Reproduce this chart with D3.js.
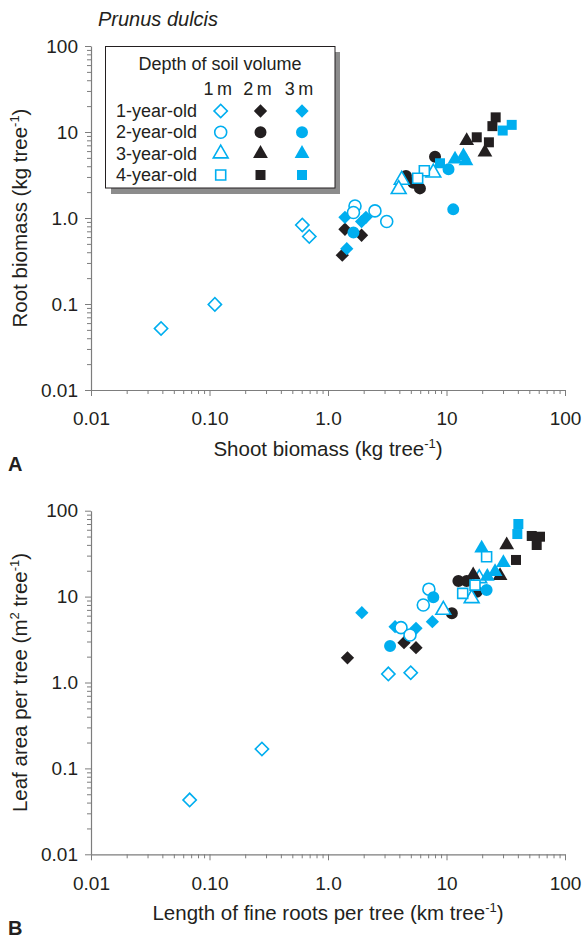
<!DOCTYPE html>
<html>
<head>
<meta charset="utf-8">
<script src="https://cdn.jsdelivr.net/npm/d3@7"></script>
<style>
  body { margin: 0; background: #fff; }
  text { font-family: Arial, "Liberation Sans", Helvetica, sans-serif; fill: #231f20; }
</style>
</head>
<body>
<svg width="582" height="938"></svg>
<script>
var ageLabels = ["1-year-old", "2-year-old", "3-year-old", "4-year-old"];
var depthLabels = ["1\u2009m", "2\u2009m", "3\u2009m"];
var majorTicks = [0.01, 0.1, 1, 10, 100];
var xTickLabels = ["0.01", "0.10", "1.0", "10", "100"];
var yTickLabels = ["0.01", "0.1", "1.0", "10", "100"];

// panel A: [shoot biomass, root biomass], one list per depth (1 m, 2 m, 3 m)
var shootRoot1yr = [
  [[0.039, 0.052], [0.111, 0.099], [0.607, 0.83], [0.695, 0.61]],
  [[1.39, 0.74], [1.92, 0.63], [1.32, 0.37]],
  [[1.39, 1.02], [2.09, 1.02], [1.92, 0.91], [1.44, 0.44]]
];
var shootRoot2yr = [
  [[1.69, 1.38], [1.64, 1.16], [2.49, 1.21], [3.13, 0.91]],
  [[4.55, 3.08], [5.25, 2.57], [5.97, 2.21], [8.0, 5.16]],
  [[1.64, 0.68], [10.4, 3.68], [11.4, 1.26]]
];
var shootRoot3yr = [
  [[7.74, 3.36], [4.19, 2.77], [3.95, 2.16]],
  [[14.8, 7.92], [21.1, 5.81]],
  [[11.8, 4.82], [13.9, 5.26], [14.6, 4.6]]
];
var shootRoot4yr = [
  [[6.5, 3.55], [5.71, 2.90]],
  [[26.0, 14.8], [24.4, 11.7], [18.0, 8.68], [22.8, 7.59]],
  [[35.5, 12.1], [29.8, 10.4], [8.81, 4.33]]
];

// panel B: [fine root length, leaf area]
var rootLeaf1yr = [
  [[0.068, 0.043], [0.277, 0.168], [3.23, 1.26], [4.99, 1.30]],
  [[1.46, 1.94], [4.38, 2.91], [5.53, 2.54]],
  [[1.93, 6.5], [3.68, 4.46], [5.53, 4.28], [7.6, 5.1]]
];
var rootLeaf2yr = [
  [[7.1, 12.2], [6.37, 7.98], [4.13, 4.35], [4.92, 3.57]],
  [[12.6, 15.2], [14.8, 15.2], [18.0, 11.4], [11.1, 6.39]],
  [[7.74, 9.81], [21.8, 11.9], [3.34, 2.66]]
];
var rootLeaf3yr = [
  [[18.9, 16.3], [16.3, 9.55], [9.4, 6.98]],
  [[32.2, 39.9], [16.8, 17.8], [28.3, 17.5]],
  [[19.8, 36.5], [30.2, 24.8], [25.7, 19.5], [22.1, 17.1]]
];
var rootLeaf4yr = [
  [[21.8, 29.1], [17.4, 13.6], [13.7, 10.9]],
  [[52.4, 50.8], [61.5, 49.8], [57.7, 39.9], [38.6, 26.7]],
  [[40.4, 70.0], [39.6, 53.5]]
];

var BLUE = "#00aeef", BLACK = "#231f20", AXIS = "#7d7d7d";

var svg = d3.select("svg");

var x = d3.scaleLog().domain([0.01, 100]).range([91, 565]);
var yA = d3.scaleLog().domain([0.01, 100]).range([390, 46]);
var yB = d3.scaleLog().domain([0.01, 100]).range([854.3, 510.7]);

function isMajor(d) {
  var l = Math.log10(d);
  return Math.abs(l - Math.round(l)) < 1e-6;
}
function labelFor(list) {
  return function(d) {
    if (!isMajor(d)) return "";
    return list[Math.round(Math.log10(d)) + 2];
  };
}

// one shape per age, one style per depth
function symbolPath(age) {
  if (age == 0) return d3.symbol().type(d3.symbolSquare).size(88)();
  if (age == 1) return d3.symbol().type(d3.symbolCircle).size(113)();
  if (age == 2) return d3.symbol().type(d3.symbolTriangle).size(95)();
  return d3.symbol().type(d3.symbolSquare).size(100)();
}
function styleMark(sel, age, depth) {
  sel.attr("d", symbolPath(age))
    .attr("fill", depth == 0 ? "#fff" : (depth == 1 ? BLACK : BLUE))
    .attr("stroke", depth == 0 ? BLUE : "none")
    .attr("stroke-width", 1.6);
}
function place(px, py, age) {
  return "translate(" + px + "," + py + ")" + (age == 0 ? " rotate(45)" : "");
}

function drawPanel(y, series, xTitle, yTitle, letter) {
  var g = svg.append("g");
  var bottom = y.range()[0];

  var ax = g.append("g")
      .attr("transform", "translate(0," + bottom + ")")
      .call(d3.axisBottom(x).tickValues(x.ticks()).tickSize(6).tickSizeOuter(0)
        .tickPadding(16).tickFormat(labelFor(xTickLabels)));
  var ay = g.append("g")
      .attr("transform", "translate(" + x.range()[0] + ",0)")
      .call(d3.axisLeft(y).tickValues(y.ticks()).tickSize(6).tickSizeOuter(0)
        .tickPadding(7).tickFormat(labelFor(yTickLabels)));

  [ax, ay].forEach(function(a) {
    a.select(".domain").attr("stroke", AXIS).attr("stroke-width", 1.2);
    a.selectAll(".tick line").attr("stroke", AXIS).attr("stroke-width", 1);
    a.selectAll(".tick text").attr("font-size", 19).attr("font-family", null).attr("fill", BLACK);
  });
  ax.selectAll(".tick line").filter(function(d) { return !isMajor(d); }).attr("y2", 4);
  ay.selectAll(".tick line").filter(function(d) { return !isMajor(d); }).attr("x2", -4);

  var xt = g.append("text")
      .attr("x", (x.range()[0] + x.range()[1]) / 2)
      .attr("y", bottom + 66)
      .attr("text-anchor", "middle")
      .attr("font-size", 20.5);
  xTitle.forEach(function(p) {
    xt.append("tspan").text(p[0]).attr("font-size", p[1] ? 13 : null).attr("dy", p[1] ? -8 : (p[2] ? 8 : 0));
  });

  var cy = (y.range()[0] + y.range()[1]) / 2;
  var yt = g.append("text")
      .attr("transform", "translate(27," + cy + ") rotate(-90)")
      .attr("text-anchor", "middle")
      .attr("font-size", 20.5);
  yTitle.forEach(function(p) {
    yt.append("tspan").text(p[0]).attr("font-size", p[1] ? 13 : null).attr("dy", p[1] ? -8 : (p[2] ? 8 : 0));
  });

  g.append("text")
      .attr("x", 8)
      .attr("y", bottom + 81)
      .attr("font-size", 20)
      .attr("font-weight", "bold")
      .text(letter);

  series.forEach(function(byDepth, age) {
    byDepth.forEach(function(pts, depth) {
      g.append("g").selectAll("path")
          .data(pts)
        .enter().append("path")
          .attr("transform", function(d) { return place(x(d[0]), y(d[1]), age); })
          .call(styleMark, age, depth);
    });
  });
}

svg.append("text")
    .attr("x", 98)
    .attr("y", 26)
    .attr("font-size", 20)
    .attr("font-style", "italic")
    .text("Prunus dulcis");

drawPanel(yA, [shootRoot1yr, shootRoot2yr, shootRoot3yr, shootRoot4yr],
  [["Shoot biomass (kg tree"], ["-1", true], [")", false, true]],
  [["Root biomass (kg tree"], ["-1", true], [")", false, true]], "A");

drawPanel(yB, [rootLeaf1yr, rootLeaf2yr, rootLeaf3yr, rootLeaf4yr],
  [["Length of fine roots per tree (km tree"], ["-1", true], [")", false, true]],
  [["Leaf area per tree (m"], ["2", true], [" tree", false, true], ["-1", true], [")", false, true]], "B");

// legend
var lg = svg.append("g");
lg.append("rect").attr("x", 111).attr("y", 52).attr("width", 229).attr("height", 142).attr("fill", "#8c8c8c");
lg.append("rect").attr("x", 105.5).attr("y", 46.5).attr("width", 229.5).attr("height", 141.5)
    .attr("fill", "#fff").attr("stroke", BLACK).attr("stroke-width", 1);
lg.append("text").attr("x", 220).attr("y", 69.5).attr("text-anchor", "middle")
    .attr("font-size", 18).text("Depth of soil volume");

var colX = [220.7, 260.5, 302];
depthLabels.forEach(function(t, i) {
  lg.append("text").attr("x", colX[i] - 3).attr("y", 95).attr("text-anchor", "middle")
      .attr("font-size", 18).text(t);
});
var rowY = [111, 132.3, 153.6, 175];
ageLabels.forEach(function(t, age) {
  lg.append("text").attr("x", 116).attr("y", rowY[age] + 6).attr("font-size", 18).text(t);
  depthLabels.forEach(function(dl, depth) {
    lg.append("path")
        .attr("transform", place(colX[depth], rowY[age], age))
        .call(styleMark, age, depth);
  });
});
</script>
</body>
</html>
